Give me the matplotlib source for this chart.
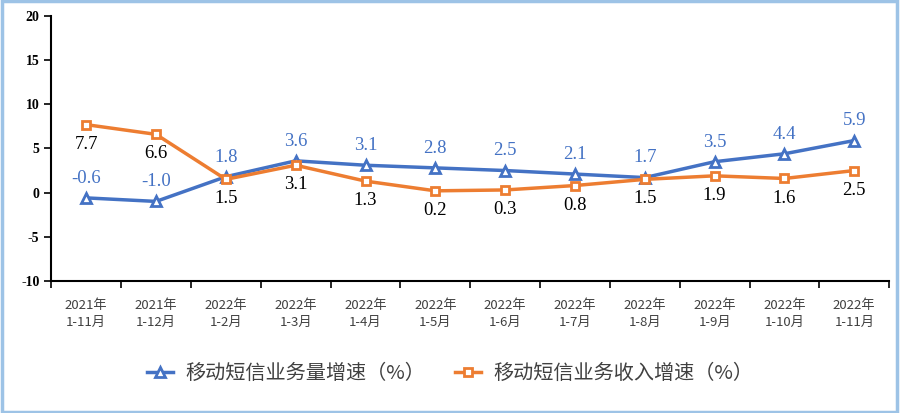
import numpy as np
import matplotlib.pyplot as plt
from matplotlib.patches import Rectangle

plt.rcParams['font.family'] = ['Noto Sans CJK SC', 'DejaVu Sans']

categories = ['2021年\n1-11月', '2021年\n1-12月', '2022年\n1-2月', '2022年\n1-3月',
              '2022年\n1-4月', '2022年\n1-5月', '2022年\n1-6月', '2022年\n1-7月',
              '2022年\n1-8月', '2022年\n1-9月', '2022年\n1-10月', '2022年\n1-11月']
volume = [-0.6, -1.0, 1.8, 3.6, 3.1, 2.8, 2.5, 2.1, 1.7, 3.5, 4.4, 5.9]
revenue = [7.7, 6.6, 1.5, 3.1, 1.3, 0.2, 0.3, 0.8, 1.5, 1.9, 1.6, 2.5]
names = ['移动短信业务量增速（%）', '移动短信业务收入增速（%）']

blue = '#4472C4'
orange = '#ED7D31'

fig = plt.figure(figsize=(9, 4.13), dpi=100)
ax = fig.add_axes([0.057, 0.32, 0.931, 0.641])
x = np.arange(len(categories))

ax.plot(x, volume, color=blue, lw=2.5, marker='^', ms=7.5, mfc='white',
        mec=blue, mew=2, label=names[0], zorder=3)
ax.plot(x, revenue, color=orange, lw=2.5, marker='s', ms=6, mfc='white',
        mec=orange, mew=2, label=names[1], zorder=3)

for xi, v in zip(x, volume):
    ax.annotate(f'{v:.1f}', (xi, v), xytext=(0, 8), textcoords='offset points',
                ha='center', va='bottom', color=blue, fontsize=13.5,
                family='Liberation Serif')
for xi, v in zip(x, revenue):
    ax.annotate(f'{v:.1f}', (xi, v), xytext=(0, -8), textcoords='offset points',
                ha='center', va='top', color='black', fontsize=13.5,
                family='Liberation Serif')

ax.set_xlim(-0.5, len(categories) - 0.5)
ax.set_ylim(-10, 20)
ax.set_yticks([-10, -5, 0, 5, 10, 15, 20])
ax.set_yticklabels(['-10', '-5', '0', '5', '10', '15', '20'],
                   family='Liberation Serif', fontweight='bold', fontsize=10)
ax.set_xticks(np.arange(-0.5, len(categories), 1))
ax.set_xticklabels([])
ax.set_xticks(x, minor=True)
ax.set_xticklabels(categories, minor=True, fontsize=9.5, color='#404040',
                   linespacing=1.4)
ax.tick_params(axis='x', which='major', length=5, width=1.2, direction='out')
ax.tick_params(axis='x', which='minor', length=0, pad=13)
ax.tick_params(axis='y', length=5, width=1.2, direction='out')

for s in ['top', 'right']:
    ax.spines[s].set_visible(False)
ax.spines['left'].set_linewidth(1.5)
ax.spines['bottom'].set_linewidth(1.5)

fig.legend(loc='center', bbox_to_anchor=(0.5, 0.095), ncol=2, frameon=False,
           fontsize=14.5, labelcolor='#404040', columnspacing=1.5,
           handlelength=1.3, handletextpad=0.6)

fig.patches.append(Rectangle((0.002, 0.003), 0.995, 0.994, transform=fig.transFigure,
                             fill=False, edgecolor='#9DC3E6', lw=2.5))

fig.savefig('out.png', dpi=100)
